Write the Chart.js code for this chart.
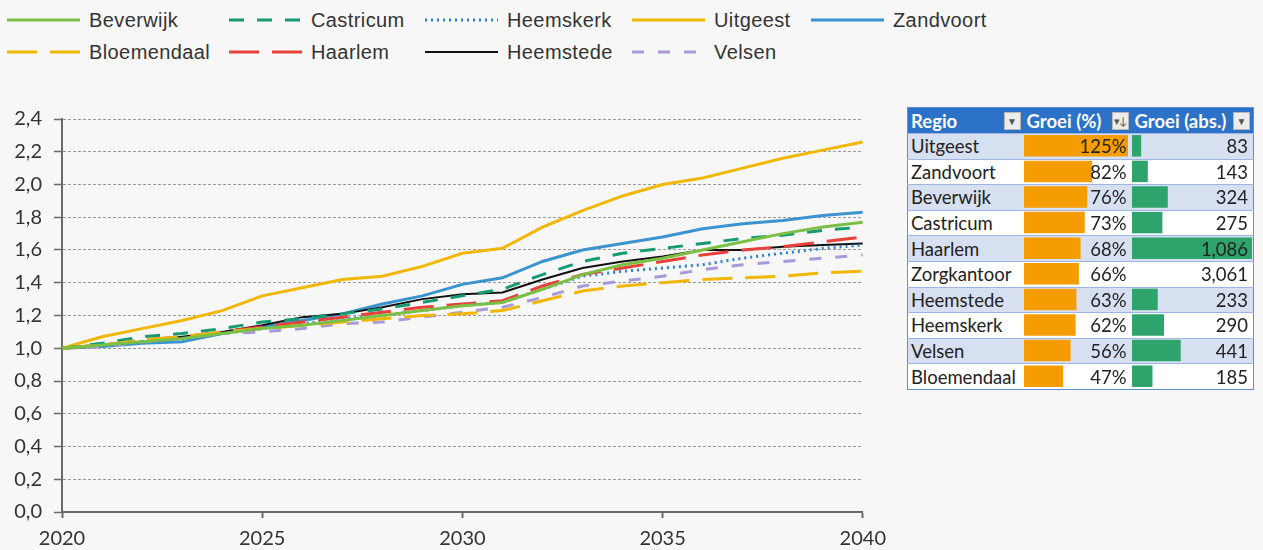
<!DOCTYPE html>
<html lang="nl">
<head>
<meta charset="UTF-8">
<title>Groei per regio</title>
<script src="https://cdn.jsdelivr.net/npm/chart.js"></script>
<style>
    * { margin: 0; padding: 0; box-sizing: border-box; }
    body {
        width: 1263px;
        height: 550px;
        background: #f7f7f7;
        overflow: hidden;
        position: relative;
        font-family: 'Liberation Sans', Arial, sans-serif;
    }
    .legend {
        position: absolute;
        left: 7px;
        top: 6px;
        display: grid;
        grid-template-rows: 28px 28px;
        grid-auto-flow: column;
        grid-template-columns: 222px 196px 207px 179px 200px;
        row-gap: 4px;
    }
    .legend-item {
        display: flex;
        align-items: center;
        font-size: 20px;
        color: #333;
        letter-spacing: 0.4px;
        white-space: nowrap;
    }
    .legend-item svg { margin-right: 9px; flex: none; }
    .chart-box {
        position: absolute;
        left: 0;
        top: 95px;
        width: 895px;
        height: 455px;
    }
    .table-box {
        position: absolute;
        left: 907px;
        top: 107px;
        width: 346px;
    }
    table {
        border-collapse: collapse;
        width: 346px;
        table-layout: fixed;
        font-family: Lato, 'Open Sans', sans-serif;
        font-size: 18.5px;
        color: #222;
        background: #fff;
        border: 1px solid #5b8fd6;
    }
    th {
        background: #2c72c8;
        color: #fff;
        font-weight: bold;
        font-size: 18.5px;
        height: 26px;
        text-align: left;
        padding: 0 3px;
        white-space: nowrap;
        overflow: hidden;
    }
    th .in { display: flex; justify-content: space-between; align-items: center; position: relative; }
    .drop {
        display: inline-block;
        flex: none;
        width: 17px;
        height: 18px;
        background: #ececec;
        border: 1px solid #b8b8b8;
        color: #555;
        font-size: 10px;
        line-height: 16px;
        text-align: center;
        font-weight: normal;
    }
    td {
        height: 25.6px;
        padding: 0 3px;
        white-space: nowrap;
        overflow: hidden;
        border-top: 1px solid #9db5e0;
    }
    tr.band td { background: #d7e0f1; }
    td span { position: relative; z-index: 2; }
    td.num { text-align: right; padding-right: 5px; }
    .bars {
        position: absolute;
        top: 26px;
        z-index: 1;
        pointer-events: none;
    }
</style>
</head>
<body>
<div class="legend" id="legend"></div>
<div class="chart-box"><canvas id="growthChart" width="895" height="455"></canvas></div>
<div class="table-box" id="tableBox">
    <table id="growthTable"></table>
    <canvas class="bars" id="pctBars" width="108" height="256" style="left:116px"></canvas>
    <canvas class="bars" id="absBars" width="122" height="256" style="left:224px"></canvas>
</div>

<script>
    // index (2020 = 1,0)
    const years = [2020, 2021, 2022, 2023, 2024, 2025, 2026, 2027, 2028, 2029, 2030,
                   2031, 2032, 2033, 2034, 2035, 2036, 2037, 2038, 2039, 2040];

    const beverwijk   = [1.00, 1.02, 1.04, 1.06, 1.09, 1.12, 1.14, 1.17, 1.20, 1.23, 1.26, 1.28, 1.36, 1.45, 1.51, 1.55, 1.60, 1.65, 1.70, 1.74, 1.77];
    const bloemendaal = [1.00, 1.02, 1.05, 1.07, 1.10, 1.12, 1.14, 1.16, 1.18, 1.20, 1.21, 1.23, 1.29, 1.35, 1.38, 1.40, 1.42, 1.43, 1.44, 1.46, 1.47];
    const castricum   = [1.00, 1.03, 1.07, 1.09, 1.12, 1.16, 1.18, 1.21, 1.24, 1.28, 1.32, 1.36, 1.45, 1.53, 1.58, 1.61, 1.64, 1.67, 1.69, 1.72, 1.74];
    const haarlem     = [1.00, 1.02, 1.05, 1.07, 1.10, 1.13, 1.16, 1.19, 1.22, 1.25, 1.27, 1.29, 1.38, 1.45, 1.49, 1.53, 1.57, 1.60, 1.62, 1.65, 1.68];
    const heemskerk   = [1.00, 1.02, 1.04, 1.06, 1.09, 1.12, 1.15, 1.18, 1.20, 1.23, 1.26, 1.28, 1.36, 1.44, 1.47, 1.49, 1.51, 1.55, 1.58, 1.61, 1.63];
    const heemstede   = [1.00, 1.02, 1.04, 1.07, 1.10, 1.14, 1.19, 1.21, 1.25, 1.30, 1.33, 1.34, 1.42, 1.49, 1.53, 1.56, 1.60, 1.60, 1.62, 1.63, 1.64];
    const uitgeest    = [1.00, 1.07, 1.12, 1.17, 1.23, 1.32, 1.37, 1.42, 1.44, 1.50, 1.58, 1.61, 1.74, 1.84, 1.93, 2.00, 2.04, 2.10, 2.16, 2.21, 2.26];
    const velsen      = [1.00, 1.01, 1.04, 1.06, 1.09, 1.10, 1.12, 1.15, 1.16, 1.19, 1.22, 1.25, 1.31, 1.38, 1.41, 1.44, 1.48, 1.51, 1.53, 1.55, 1.57];
    const zandvoort   = [1.00, 1.01, 1.03, 1.04, 1.09, 1.13, 1.17, 1.21, 1.27, 1.32, 1.39, 1.43, 1.53, 1.60, 1.64, 1.68, 1.73, 1.76, 1.78, 1.81, 1.83];

    const yTicks = [0, 0.2, 0.4, 0.6, 0.8, 1.0, 1.2, 1.4, 1.6, 1.8, 2.0, 2.2, 2.4];
    const xTicks = [2020, 2025, 2030, 2035, 2040];

    // table (sorted on Groei (%))
    const regions   = ['Uitgeest', 'Zandvoort', 'Beverwijk', 'Castricum', 'Haarlem', 'Zorgkantoor', 'Heemstede', 'Heemskerk', 'Velsen', 'Bloemendaal'];
    const growthPct = [125, 82, 76, 73, 68, 66, 63, 62, 56, 47];
    const growthAbs = [83, 143, 324, 275, 1086, 3061, 233, 290, 441, 185];

    // legend order is alphabetical, Excel fills it column by column
    const series = [
        { label: 'Beverwijk',   data: beverwijk,   color: '#7bc044', dash: [],       width: 3 },
        { label: 'Bloemendaal', data: bloemendaal, color: '#f2b705', dash: [30, 13], width: 3 },
        { label: 'Castricum',   data: castricum,   color: '#179a72', dash: [15, 13], width: 3 },
        { label: 'Haarlem',     data: haarlem,     color: '#e8413b', dash: [30, 13], width: 3 },
        { label: 'Heemskerk',   data: heemskerk,   color: '#2f80cf', dash: [2, 4],   width: 3 },
        { label: 'Heemstede',   data: heemstede,   color: '#111111', dash: [],       width: 2 },
        { label: 'Uitgeest',    data: uitgeest,    color: '#f2b705', dash: [],       width: 3 },
        { label: 'Velsen',      data: velsen,      color: '#a89ad8', dash: [12, 14], width: 3 },
        { label: 'Zandvoort',   data: zandvoort,   color: '#3b93cf', dash: [],       width: 3 }
    ];

    const fmtComma = v => v.toFixed(1).replace('.', ',');

    // ---- legend
    const legend = document.getElementById('legend');
    series.forEach(s => {
        const item = document.createElement('div');
        item.className = 'legend-item';
        const dashAttr = s.dash.length ? `stroke-dasharray="${s.dash.join(' ')}"` : '';
        item.innerHTML = `<svg width="73" height="8"><line x1="0" y1="4" x2="73" y2="4"
            stroke="${s.color}" stroke-width="${s.width}" ${dashAttr}/></svg><span>${s.label}</span>`;
        legend.appendChild(item);
    });

    // ---- line chart
    const chartAreaLeft = 62;   // y axis position inside canvas
    const axisColor = '#6a6a6a';

    new Chart(document.getElementById('growthChart'), {
        type: 'line',
        data: {
            datasets: series.map(s => ({
                label: s.label,
                data: s.data.map((v, i) => ({ x: years[i], y: v })),
                borderColor: s.color,
                backgroundColor: s.color,
                borderDash: s.dash,
                borderWidth: s.width,
                pointRadius: 0,
                tension: 0,
                fill: false
            }))
        },
        options: {
            responsive: false,
            animation: false,
            devicePixelRatio: 1,
            layout: { padding: { top: 16, right: 31 } },
            plugins: { legend: { display: false }, tooltip: { enabled: false } },
            scales: {
                x: {
                    type: 'linear',
                    min: xTicks[0],
                    max: xTicks[xTicks.length - 1],
                    afterBuildTicks: axis => { axis.ticks = xTicks.map(v => ({ value: v })); },
                    afterFit: axis => { axis.height = 38; },
                    grid: { drawOnChartArea: false, drawTicks: true, tickLength: 6, tickColor: axisColor, tickWidth: 2 },
                    border: { color: axisColor, width: 2 },
                    ticks: {
                        color: '#333',
                        padding: 9,
                        maxRotation: 0,
                        font: { family: 'Lato', size: 20 },
                        callback: v => String(v)
                    }
                },
                y: {
                    min: yTicks[0],
                    max: yTicks[yTicks.length - 1],
                    afterBuildTicks: axis => { axis.ticks = yTicks.map(v => ({ value: v })); },
                    afterFit: axis => { axis.width = chartAreaLeft; },
                    grid: { color: '#9a9a9a', lineWidth: 1, tickLength: 8, tickColor: axisColor, tickWidth: 1.5 },
                    border: { color: axisColor, width: 2, dash: [3, 2] },
                    ticks: {
                        color: '#333',
                        padding: 12,
                        font: { family: 'Lato', size: 20 },
                        callback: v => fmtComma(v)
                    }
                }
            }
        }
    });

    // ---- table
    const table = document.getElementById('growthTable');
    table.innerHTML = `<colgroup><col style="width:116px"><col style="width:108px"><col style="width:122px"></colgroup>
        <tr>
          <th><div class="in">Regio<span class="drop">&#9660;</span></div></th>
          <th><div class="in">Groei (%)<span class="drop" style="font-size:11px;letter-spacing:-1px">&#9662;&#8595;</span></div></th>
          <th><div class="in">Groei (abs.)<span class="drop">&#9660;</span></div></th>
        </tr>`;
    regions.forEach((r, i) => {
        const tr = document.createElement('tr');
        if (i % 2 === 0) tr.className = 'band';
        tr.innerHTML = `<td><span>${r}</span></td>
            <td class="num"><span>${growthPct[i]}%</span></td>
            <td class="num"><span>${growthAbs[i].toLocaleString('en-US')}</span></td>`;
        table.appendChild(tr);
    });

    // data bars, Zorgkantoor (total) is left out of the abs. bars
    const absBarValues = growthAbs.map((v, i) => regions[i] === 'Zorgkantoor' ? null : v);

    function dataBars(id, values, color, pad) {
        const valid = values.filter(v => v !== null);
        new Chart(document.getElementById(id), {
            type: 'bar',
            data: {
                labels: regions,
                datasets: [{
                    data: values,
                    backgroundColor: color,
                    borderWidth: 0,
                    barPercentage: 0.84,
                    categoryPercentage: 1
                }]
            },
            options: {
                indexAxis: 'y',
                responsive: false,
                animation: false,
                devicePixelRatio: 1,
                layout: { padding: pad },
                plugins: { legend: { display: false }, tooltip: { enabled: false } },
                scales: {
                    x: { display: false, min: 0, max: Math.max(...valid) },
                    y: { display: false }
                }
            }
        });
    }

    dataBars('pctBars', growthPct, '#f59c00', { left: 1, right: 3, top: 0, bottom: 0 });
    dataBars('absBars', absBarValues, '#2ea36b', { left: 1, right: 1, top: 0, bottom: 0 });
</script>
</body>
</html>
